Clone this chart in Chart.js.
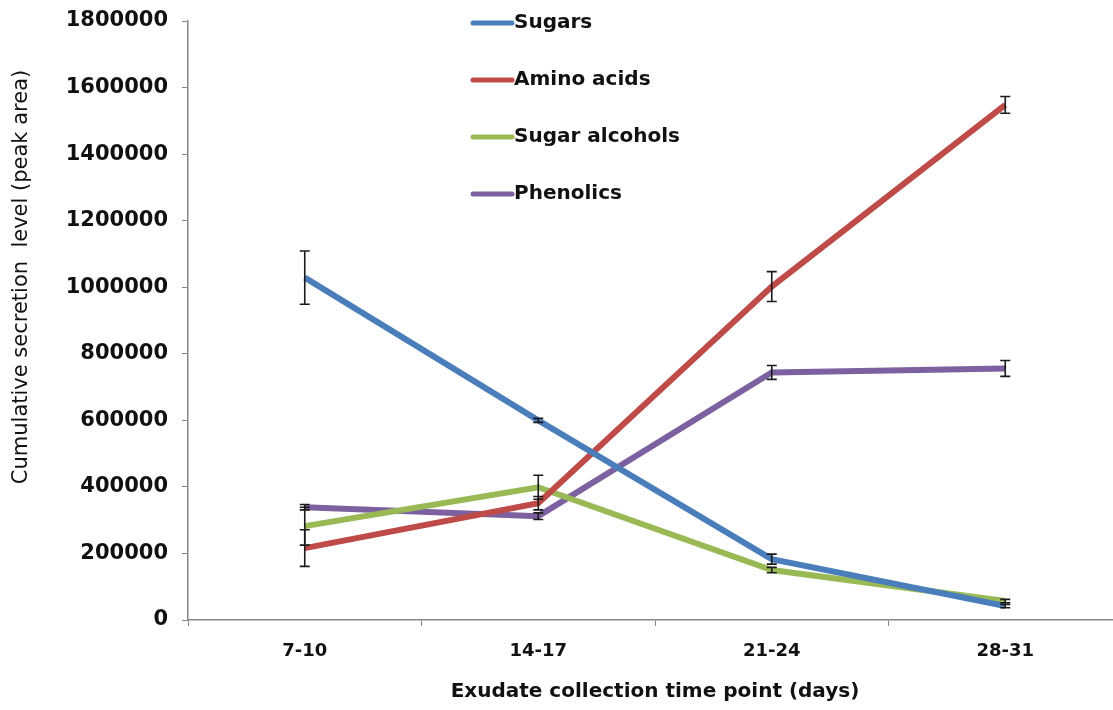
<!DOCTYPE html>
<html>
<head>
<meta charset="utf-8">
<script src="https://cdn.jsdelivr.net/npm/chart.js@4"></script>
<style>
  html, body { margin: 0; padding: 0; background: #fff; overflow: hidden; }
  #wrap { width: 1122px; height: 710px; position: relative; }
</style>
</head>
<body>
<div id="wrap"><canvas id="chart"></canvas></div>
<script>
// data
const timePoints = ["7-10", "14-17", "21-24", "28-31"];
const sugars = [1029000, 600000, 183000, 42000];
const sugarsErr = [80000, 6000, 15000, 5000];
const aminoAcids = [216000, 351000, 1002000, 1548000];
const aminoAcidsErr = [55000, 20000, 45000, 25000];
const sugarAlcohols = [282000, 399000, 150000, 57000];
const sugarAlcoholsErr = [57000, 36000, 8000, 5000];
const phenolics = [339000, 312000, 744000, 756000];
const phenolicsErr = [8000, 10000, 21000, 24000];

const yTicks = [0, 200000, 400000, 600000, 800000, 1000000, 1200000, 1400000, 1600000, 1800000];
const yTitle = "Cumulative secretion  level (peak area)";

const FONT = "'DejaVu Sans', Arial, sans-serif";

function series(label, data, err, color) {
    return {
        label: label,
        data: data,
        errors: err,
        borderColor: color,
        backgroundColor: color,
        borderWidth: 6,
        pointRadius: 0,
        tension: 0,
        fill: false,
    };
}

// error bars
const errorBars = {
    id: "errorBars",
    afterDatasetsDraw(chart) {
        const ctx = chart.ctx;
        const y = chart.scales.y;
        ctx.save();
        ctx.strokeStyle = "#1a1a1a";
        ctx.lineWidth = 1.6;
        chart.data.datasets.forEach((ds, i) => {
            const meta = chart.getDatasetMeta(i);
            meta.data.forEach((pt, j) => {
                const e = ds.errors[j];
                const top = y.getPixelForValue(ds.data[j] + e);
                const bot = y.getPixelForValue(ds.data[j] - e);
                ctx.beginPath();
                ctx.moveTo(pt.x, top);
                ctx.lineTo(pt.x, bot);
                ctx.moveTo(pt.x - 5, top);
                ctx.lineTo(pt.x + 5, top);
                ctx.moveTo(pt.x - 5, bot);
                ctx.lineTo(pt.x + 5, bot);
                ctx.stroke();
            });
        });
        ctx.restore();
    },
};

// vertical legend inside the plot + y title (sits higher than centre in the original)
const extras = {
    id: "extras",
    afterDraw(chart) {
        const ctx = chart.ctx;
        ctx.save();
        ctx.font = "bold 20px " + FONT;
        ctx.textBaseline = "middle";
        ctx.fillStyle = "#111";
        chart.data.datasets.forEach((ds, i) => {
            const yy = 23 + i * 57;
            ctx.strokeStyle = ds.borderColor;
            ctx.lineWidth = 5;
            ctx.lineCap = "round";
            ctx.beginPath();
            ctx.moveTo(473, yy);
            ctx.lineTo(512, yy);
            ctx.stroke();
            ctx.fillText(ds.label, 514, yy);
        });

        ctx.translate(22, 277);
        ctx.rotate(-Math.PI / 2);
        ctx.font = "21px " + FONT;
        ctx.textAlign = "center";
        ctx.fillText(yTitle, 0, 0);
        ctx.restore();
    },
};

const ctx = document.getElementById("chart").getContext("2d");
new Chart(ctx, {
    type: "line",
    data: {
        labels: timePoints,
        datasets: [
            series("Sugars", sugars, sugarsErr, "#4a7ebb"),
            series("Amino acids", aminoAcids, aminoAcidsErr, "#be4b48"),
            series("Sugar alcohols", sugarAlcohols, sugarAlcoholsErr, "#98b954"),
            series("Phenolics", phenolics, phenolicsErr, "#7d60a0"),
        ],
    },
    options: {
        responsive: true,
        maintainAspectRatio: false,
        animation: false,
        layout: { padding: { top: 21, right: 0, left: 0, bottom: 0 } },
        plugins: {
            legend: { display: false },
            tooltip: { enabled: false },
        },
        scales: {
            x: {
                offset: true,
                afterFit(scale) { scale.height = 90; },
                border: { color: "#868686", width: 1.5 },
                grid: {
                    drawOnChartArea: false,
                    color: "#868686",
                    tickLength: 6,
                    offset: true,
                },
                ticks: {
                    color: "#111",
                    padding: 15,
                    font: { family: FONT, size: 18, weight: "bold" },
                },
                title: {
                    display: true,
                    text: "Exudate collection time point (days)",
                    color: "#111",
                    padding: { top: 0, bottom: 6 },
                    font: { family: FONT, size: 20, weight: "bold" },
                },
            },
            y: {
                min: 0,
                max: 1800000,
                afterFit(scale) {
                    scale.width = 188;
                    scale.paddingTop = 0;
                    scale.paddingBottom = 0;
                },
                afterBuildTicks(scale) {
                    scale.ticks = yTicks.map((v) => ({ value: v }));
                },
                border: { color: "#868686", width: 1.5 },
                grid: {
                    drawOnChartArea: false,
                    color: "#868686",
                    tickLength: 6,
                },
                ticks: {
                    color: "#111",
                    padding: 14,
                    callback: (v) => String(v),
                    font: { family: FONT, size: 21, weight: "bold" },
                },
            },
        },
    },
    plugins: [errorBars, extras],
});
</script>
</body>
</html>
